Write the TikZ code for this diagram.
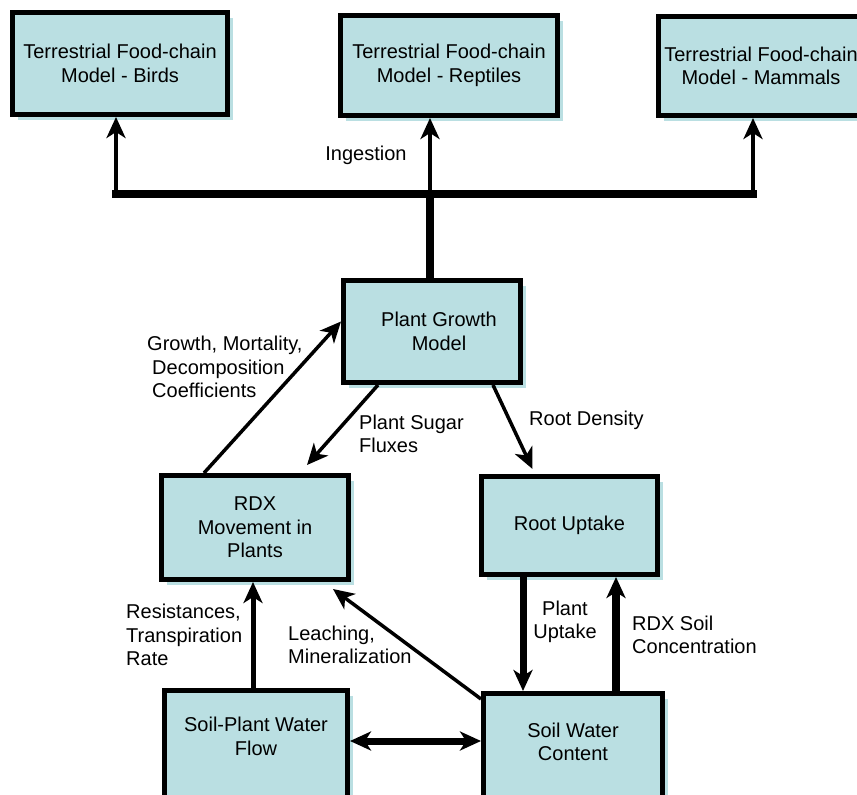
\documentclass[tikz,border=0pt]{standalone}
\usepackage{fontspec}
\setmainfont{Liberation Sans}
\usepackage{tikz}
\usetikzlibrary{arrows.meta, calc, shadows}
\definecolor{boxblue}{RGB}{186,223,226}

\begin{document}
\begin{tikzpicture}[x=1pt, y=-1pt,
  font=\fontsize{20}{23.5}\selectfont,
  >={Stealth[length=21pt, width=19pt, inset=6pt]},
  box/.style={draw, line width=5pt, fill=boxblue, align=center, inner sep=0pt,
    drop shadow={shadow xshift=5pt, shadow yshift=-5pt, fill=boxblue, opacity=1}},
  lbl/.style={align=left, anchor=west, inner sep=0pt}]
  \useasboundingbox (0,0) rectangle (857,795);
  \clip (0,0) rectangle (857,795);

  % food-chain models
  \node[box, minimum width=215pt, minimum height=102pt] (birds) at (120,63.5) {Terrestrial Food-chain\\Model - Birds};
  \node[box, minimum width=217pt, minimum height=100pt] (reptiles) at (449,65.5) {Terrestrial Food-chain\\Model - Reptiles};
  \node[box, minimum width=205pt, minimum height=99pt] (mammals) at (761,66) {Terrestrial Food-chain\\Model - Mammals};

  % plant models
  \node[box, minimum width=177pt, minimum height=102pt] (plant) at (432,331.5) {\hspace*{14pt}Plant Growth\\\hspace*{14pt}Model};
  \node[box, minimum width=187pt, minimum height=104pt] (rdx) at (255,527.5) {RDX\\Movement in\\Plants};
  \node[box, minimum width=176pt, minimum height=98pt] (root) at (569.5,525.5) {Root Uptake};

  % soil models
  \node[box, minimum width=183pt, minimum height=120pt, text depth=29pt] (spw) at (256,750.5) {Soil-Plant Water\\Flow};
  \node[box, minimum width=179pt, minimum height=120pt, text depth=24pt] (swc) at (573,753.5) {Soil Water\\Content};

  \coordinate (barL) at (116,194);
  \coordinate (hub) at (430,194);
  \coordinate (barR) at (753,194);
  \coordinate (mid) at (415,741);
  \coordinate (upl) at (523,0);
  \coordinate (upr) at (616,0);

  \draw[line width=8pt, line cap=rect] (barL) -- (barR);
  \draw[line width=8pt] (hub) -- (hub |- plant.north);
  \draw[->, line width=4pt] (barL) -- (birds.south -| barL);
  \draw[->, line width=4pt] (hub) -- (reptiles.south -| hub);
  \draw[->, line width=4pt] (barR) -- (mammals.south -| barR);
  \node (ingest) at (366,155) {Ingestion};

  \draw[->, line width=3.5pt] ([xshift=-51pt]rdx.north) -- ([yshift=10pt]plant.west);
  \draw[->, line width=3.5pt] ([xshift=-54pt]plant.south) -- ([xshift=52pt, yshift=8pt]rdx.north);
  \draw[->, line width=3.5pt] ([xshift=61pt]plant.south) -- ([xshift=-37pt, yshift=5pt]root.north);
  \node[lbl] (growth) at (147,367) {Growth, Mortality,\\\hspace{5pt}Decomposition\\\hspace{5pt}Coefficients};
  \node[lbl] (sugar) at (359,434) {Plant Sugar\\Fluxes};
  \node[lbl] (density) at (529,420) {Root Density};

  \draw[->, line width=5pt] ([xshift=-3pt]spw.north) -- ([xshift=-2pt]rdx.south);
  \draw[->, line width=3.5pt] ([yshift=-8pt]swc.north west) -- ([xshift=-18pt, yshift=-7pt]rdx.south east);
  \draw[<->, line width=7pt] (mid -| spw.east) -- (mid -| swc.west);
  \draw[->, line width=7pt] (root.south -| upl) -- (swc.north -| upl);
  \draw[->, line width=8pt] ($(swc.north -| upr)+(0,5)$) -- (root.south -| upr);
  \node[lbl] (resist) at (126,635) {Resistances,\\Transpiration\\Rate};
  \node[lbl] (leach) at (288,645) {Leaching,\\Mineralization};
  \node[align=center, inner sep=0pt] (uptake) at (565,622) {Plant\\Uptake};
  \node[lbl] (conc) at (632,635) {RDX Soil\\Concentration};
\end{tikzpicture}
\end{document}
